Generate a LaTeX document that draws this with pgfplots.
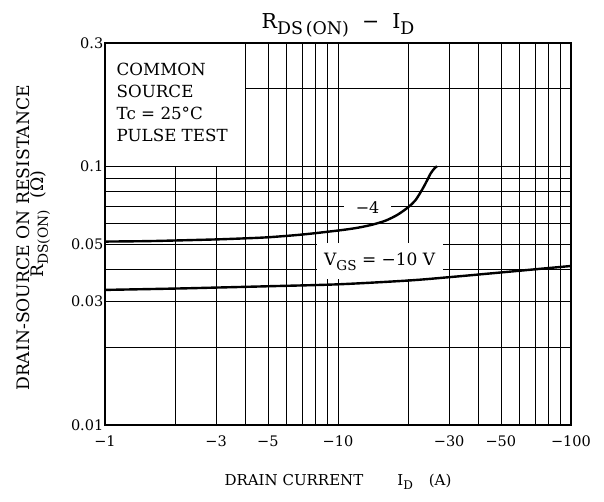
\documentclass[border=0pt]{standalone}
\usepackage{fontspec}
\setmainfont{DejaVu Serif}
\usepackage{pgfplots}
\pgfplotsset{compat=1.18}
\newcommand{\sub}[2][0.8]{\raisebox{-0.28em}{\scalebox{#1}{#2}}}
\begin{document}
\begin{tikzpicture}
\path[use as bounding box] (-105pt,-76pt) rectangle (499pt,425pt);
\begin{axis}[
  at={(0pt,0pt)}, anchor=south west,
  width=466pt, height=382pt, scale only axis,
  xmode=log, ymode=log,
  xmin=1, xmax=100, ymin=0.01, ymax=0.3,
  xtick={1,3,5,10,30,50,100},
  xticklabels={−1,−3,−5,−10,−30,−50,−100},
  minor xtick={2,4,6,7,8,9,20,40,60,70,80,90},
  ytick={0.01,0.03,0.05,0.1,0.3},
  yticklabels={0.01,0.03,0.05,0.1,0.3},
  minor ytick={0.02,0.04,0.06,0.07,0.08,0.09,0.2},
  grid=both,
  major grid style={black, line width=0.6pt},
  minor grid style={black, line width=0.6pt},
  major tick length=0pt, minor tick length=0pt,
  axis line style={line width=1.4pt},
  ticklabel style={font=\fontsize{14.5}{14.5}\selectfont},
  yticklabel style={inner sep=1.5pt},
  xticklabel style={yshift=-7pt},
  /pgf/number format/assume math mode=true,
]
\fill[white] ([xshift=0.7pt,yshift=0.6pt]axis cs:1,0.1) rectangle ([xshift=-0.6pt,yshift=-0.7pt]axis cs:4,0.3);
\node[anchor=north west, align=left, inner sep=0pt, font=\fontsize{16.7}{22}\selectfont]
  at ([xshift=11.5pt,yshift=-20pt]axis cs:1,0.3) {COMMON\\SOURCE\\Tc = 25°C\\PULSE TEST};
\node[fill=white, minimum width=47pt, minimum height=30pt, inner sep=0pt, font=\fontsize{16}{16}\selectfont]
  at (axis cs:13.4,0.0694) {−4};
\node[fill=white, minimum width=126pt, minimum height=36pt, inner sep=0pt, font=\fontsize{17}{17}\selectfont]
  at (axis cs:15.1,0.0429) {V\sub{GS} = −10 V};
\addplot[black, line width=2.4pt, smooth] coordinates {
 (1,0.0512) (1.5,0.0514) (2,0.0517) (3,0.0522) (4,0.0527) (5,0.0532) (7,0.0545)
 (10,0.0565) (12,0.0578) (14,0.0595) (16,0.0617) (18,0.065) (20,0.0695)
 (21.5,0.074) (23,0.0815) (24,0.0875) (25,0.094) (26,0.0985) (26.6,0.1)};
\addplot[black, line width=2.4pt, smooth] coordinates {
 (1,0.0333) (2,0.0337) (3,0.0340) (5,0.0344) (10,0.0350) (20,0.0362)
 (30,0.0373) (50,0.0389) (70,0.0400) (100,0.0412)};
\end{axis}
\node[anchor=base, font=\fontsize{20.5}{20.5}\selectfont] at ([yshift=14pt]current axis.north)
  {R\sub[0.85]{DS\,(ON)}\ \ −\ \ I\sub[0.85]{D}};
\node[anchor=base, font=\fontsize{15}{15}\selectfont] at ([yshift=-60pt]current axis.south)
  {DRAIN CURRENT\hspace{34pt}I\sub{D}\hspace{16pt}(A)};
\node[rotate=90, font=\fontsize{17.2}{17.2}\selectfont] at (-82pt,187pt) {DRAIN-SOURCE ON RESISTANCE};
\node[rotate=90, font=\fontsize{17.2}{17.2}\selectfont] at (-65pt,201pt) {R\sub{DS(ON)}\hspace{12pt}(Ω)};
\end{tikzpicture}
\end{document}
